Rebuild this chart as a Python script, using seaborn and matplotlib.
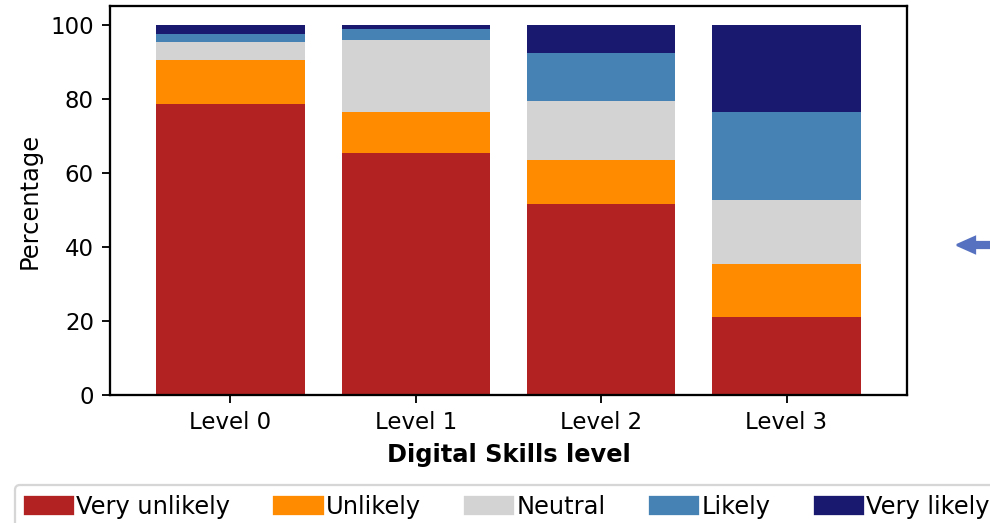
"""
Stacked bar chart: likelihood answers by digital skills level.
"""
import matplotlib
matplotlib.use('Agg')
import matplotlib.pyplot as plt
import matplotlib.patches as mpatches
import seaborn as sns
import pandas as pd

levels = ['Level 0', 'Level 1', 'Level 2', 'Level 3']
answers = ['Very unlikely', 'Unlikely', 'Neutral', 'Likely', 'Very likely']
colors = ['firebrick', 'darkorange', 'lightgray', 'steelblue', 'midnightblue']

very_unlikely = [78.5, 65.3, 51.5, 21.0]
unlikely = [12.0, 11.1, 11.8, 14.4]
neutral = [4.7, 19.5, 16.1, 17.3]
likely = [2.3, 3.0, 13.0, 23.7]
very_likely = [2.5, 1.1, 7.6, 23.6]

df = pd.DataFrame(
    {'Very unlikely': very_unlikely, 'Unlikely': unlikely, 'Neutral': neutral,
     'Likely': likely, 'Very likely': very_likely},
    index=levels,
)
cum = df.cumsum(axis=1)
cum['level'] = levels

fig = plt.figure(figsize=(990 / 165, 523 / 165), dpi=165)
ax = fig.add_axes([110 / 990, 1 - 395 / 523, 797 / 990, 389 / 523])

# draw the cumulative totals from the top answer down so each segment shows
for answer, color in reversed(list(zip(answers, colors))):
    sns.barplot(data=cum, x='level', y=answer, color=color, width=0.8,
                linewidth=0, saturation=1, ax=ax)

ax.set_xlim(-0.65, 3.65)
ax.set_ylim(0, 105)
ax.set_yticks([0, 20, 40, 60, 80, 100])
ax.set_xlabel('Digital Skills level', fontsize=10.5, fontweight='bold')
ax.set_ylabel('Percentage', fontsize=10.5)
for side in ax.spines.values():
    side.set_linewidth(1.0)

handles = [mpatches.Patch(color=c, label=a) for a, c in zip(answers, colors)]
fig.legend(handles=handles, loc='upper left', bbox_to_anchor=(15 / 990, 1 - 485 / 523),
           ncol=5, fontsize=10.5, handletextpad=0.13, columnspacing=1.85, borderaxespad=0)

# arrow at the right edge, left over from the slide
arrow = mpatches.FancyArrow(6.0, (523 - 245) / 165, -0.2, 0, width=0.036,
                            head_width=0.097, head_length=0.109, length_includes_head=True,
                            color='#5571c0', transform=fig.dpi_scale_trans)
fig.patches.append(arrow)

fig.savefig('out.png', dpi=165)
